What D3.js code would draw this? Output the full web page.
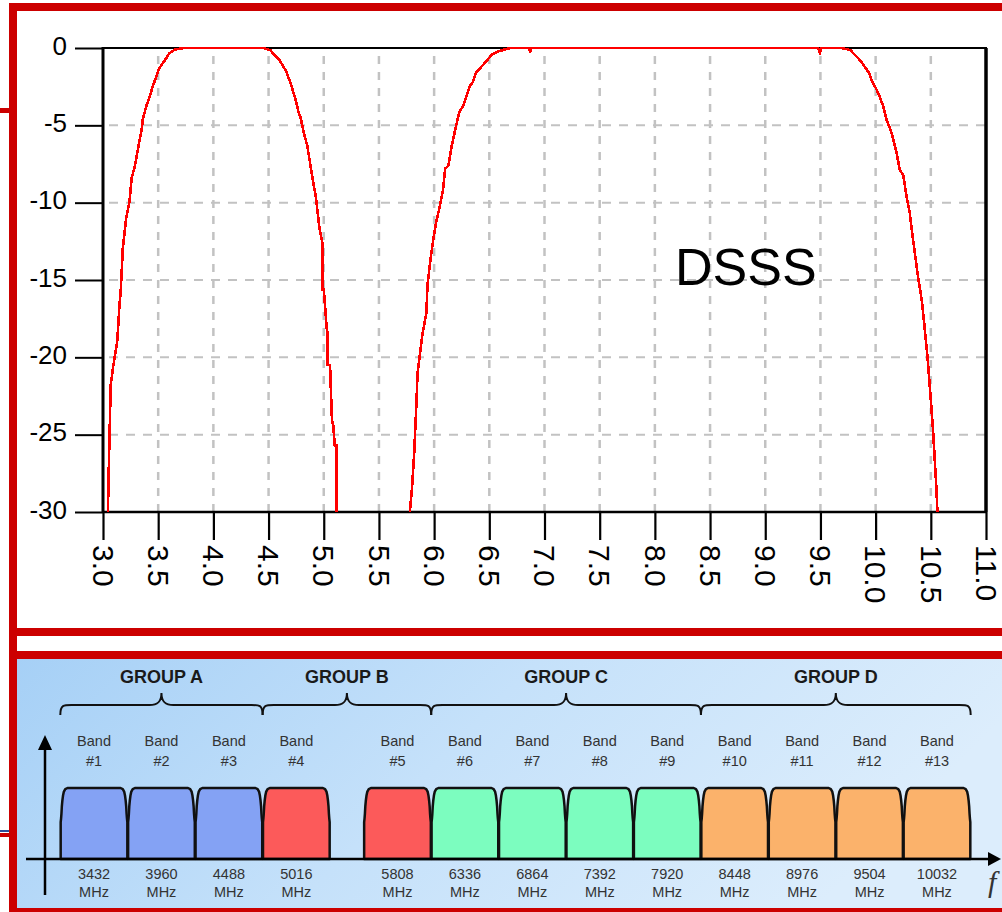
<!DOCTYPE html>
<html>
<head>
<meta charset="utf-8">
<script src="https://cdn.jsdelivr.net/npm/d3@7"></script>
<style>
  html, body { margin: 0; padding: 0; background: #fff; }
  svg { display: block; }
</style>
</head>
<body>
<svg id="chart" width="1002" height="912"></svg>
<script>
// ---- DSSS spectrum mask: frequency (GHz) and level (dB) ----
const lowBandGHz = [3.045, 3.05, 3.07, 3.09, 3.13, 3.15, 3.16, 3.18, 3.21, 3.24, 3.26, 3.29, 3.32, 3.35, 3.36, 3.39, 3.42, 3.45, 3.48, 3.51, 3.56, 3.60, 3.65, 3.74,
                    4.45, 4.52, 4.54, 4.60, 4.66, 4.70, 4.74, 4.77, 4.79, 4.82, 4.85, 4.88, 4.91, 4.93, 4.96, 4.99, 4.99, 5.00, 5.03, 5.036, 5.036, 5.057, 5.075, 5.084, 5.10, 5.117, 5.117];
const lowBandDb  = [-30, -27.9, -21.8, -20.7, -18.9, -16.5, -15.8, -12.9, -11.0, -9.95, -8.4, -7.6, -6.4, -5.3, -4.65, -3.8, -3.2, -2.5, -1.9, -1.3, -0.8, -0.35, -0.1, 0,
                    0, -0.15, -0.35, -0.8, -1.5, -2.3, -3.2, -4.1, -4.5, -5.5, -6.3, -7.6, -8.9, -9.7, -11.6, -12.7, -15.6, -15.6, -18.4, -18.4, -20.5, -20.5, -24.2, -24.2, -25.7, -25.7, -30];

const highBandGHz = [5.78, 5.80, 5.82, 5.84, 5.85, 5.89, 5.93, 5.94, 5.97, 5.99, 6.02, 6.05, 6.08, 6.10, 6.13, 6.16, 6.20, 6.23, 6.26, 6.29, 6.32, 6.35, 6.38, 6.43, 6.48, 6.52, 6.57, 6.66, 6.69,
                     6.86, 6.87, 6.88, 9.48, 9.495, 9.51, 9.69,
                     9.77, 9.80, 9.86, 9.90, 9.94, 9.97, 10.01, 10.04, 10.07, 10.10, 10.14, 10.16, 10.19, 10.22, 10.25, 10.28, 10.31, 10.33, 10.36, 10.38, 10.42, 10.44, 10.47, 10.49, 10.52, 10.55, 10.56];
const highBandDb  = [-30, -28.4, -26.1, -22.9, -21.0, -18.7, -17.1, -15.3, -13.5, -12.5, -11.2, -10.3, -9.2, -7.8, -7.6, -6.3, -5.0, -4.1, -3.8, -3.2, -2.5, -2.2, -1.6, -1.2, -0.8, -0.45, -0.25, -0.05, 0,
                     0, -0.3, 0, 0, -0.3, 0, 0,
                     -0.13, -0.35, -0.8, -1.2, -1.6, -2.2, -2.7, -3.2, -3.8, -4.65, -5.4, -5.9, -6.8, -7.9, -8.2, -9.6, -10.7, -11.9, -13.5, -14.6, -16.4, -17.8, -20.0, -21.8, -24.7, -28.4, -30];

const yTickValues = [0, -5, -10, -15, -20, -25, -30];
const xTickValues = [3.0, 3.5, 4.0, 4.5, 5.0, 5.5, 6.0, 6.5, 7.0, 7.5, 8.0, 8.5, 9.0, 9.5, 10.0, 10.5, 11.0];
const xTickLabels = ["3.0", "3.5", "4.0", "4.5", "5.0", "5.5", "6.0", "6.5", "7.0", "7.5", "8.0", "8.5", "9.0", "9.5", "10.0", "10.5", "11.0"];
const chartLabel = "DSSS";

// ---- UWB band plan ----
const bandNumbers = ["#1", "#2", "#3", "#4", "#5", "#6", "#7", "#8", "#9", "#10", "#11", "#12", "#13"];
const bandCenterMHz = [3432, 3960, 4488, 5016, 5808, 6336, 6864, 7392, 7920, 8448, 8976, 9504, 10032];
const bandGroupIndex = [0, 0, 0, 1, 1, 2, 2, 2, 2, 3, 3, 3, 3];
const groupNames = ["GROUP A", "GROUP B", "GROUP C", "GROUP D"];
const groupColors = ["#84a2f4", "#fc5a5a", "#7cfdbf", "#fbb26b"];
const bandHalfWidthMHz = 264;
// one band's spectral outline: offset from centre (MHz) and relative level
const bandShapeOffsetMHz = [-261, -261, -258, -255, -252, -248, -243, -236, -225, -208, 208, 225, 236, 243, 248, 252, 255, 258, 261, 261];
const bandShapeLevel     = [0, 0.52, 0.57, 0.64, 0.74, 0.82, 0.89, 0.95, 0.985, 1, 1, 0.985, 0.95, 0.89, 0.82, 0.74, 0.64, 0.57, 0.52, 0];

const FONT = "'Liberation Sans', Arial, Helvetica, sans-serif";
const RED = "#cc0000";

const svg = d3.select("#chart");
svg.append("rect").attr("width", 1002).attr("height", 912).attr("fill", "#ffffff");

// ---- slide frame ----
const frameG = svg.append("g");
frameG.append("rect").attr("x", 0).attr("y", 108).attr("width", 10).attr("height", 5).attr("fill", RED);
frameG.append("rect").attr("x", 0).attr("y", 830).attr("width", 10).attr("height", 2).attr("fill", "#2f4f9a");
frameG.append("rect").attr("x", 0).attr("y", 833).attr("width", 10).attr("height", 4).attr("fill", RED);

const defs = svg.append("defs");
const grad = defs.append("linearGradient").attr("id", "panelBg")
  .attr("x1", "0").attr("y1", "0").attr("x2", "1").attr("y2", "0.25");
grad.append("stop").attr("offset", "0").attr("stop-color", "#a6d0f6");
grad.append("stop").attr("offset", "0.5").attr("stop-color", "#c5e1fa");
grad.append("stop").attr("offset", "1").attr("stop-color", "#dcedfc");

frameG.append("rect").attr("x", 17).attr("y", 659).attr("width", 985).attr("height", 249).attr("fill", "url(#panelBg)");
[[9, 3, 993, 8], [9, 3, 8, 909], [9, 628, 993, 8], [9, 651, 993, 8], [9, 908, 993, 4]].forEach(r => {
  frameG.append("rect").attr("x", r[0]).attr("y", r[1]).attr("width", r[2]).attr("height", r[3]).attr("fill", RED);
});

// ---- upper chart: spectrum mask ----
const x = d3.scaleLinear().domain([3, 11]).range([103, 986]);
const y = d3.scaleLinear().domain([-30, 0]).range([512, 48]);

const maskG = svg.append("g");

// dashed grid
maskG.append("g").selectAll("line").data(xTickValues.filter(v => v > 3 && v < 11)).join("line")
  .attr("x1", d => x(d)).attr("x2", d => x(d)).attr("y1", y(0)).attr("y2", y(-30))
  .attr("stroke", "#c2c2c2").attr("stroke-width", 2.5).attr("stroke-dasharray", "8,8")
  .attr("stroke-dashoffset", -8);
maskG.append("g").selectAll("line").data(yTickValues.filter(v => v < 0 && v > -30)).join("line")
  .attr("x1", x(3)).attr("x2", x(11)).attr("y1", d => y(d)).attr("y2", d => y(d))
  .attr("stroke", "#c2c2c2").attr("stroke-width", 2).attr("stroke-dasharray", "9,8")
  .attr("stroke-dashoffset", -6);

// axes
const yAxis = maskG.append("g").attr("transform", `translate(${x(3)},0)`)
  .call(d3.axisLeft(y).tickValues(yTickValues).tickSize(28).tickPadding(8));
yAxis.select(".domain").remove();
yAxis.selectAll(".tick line").attr("stroke", "#000").attr("stroke-width", 2);
yAxis.selectAll(".tick text").attr("font-family", FONT).attr("font-size", 26).attr("fill", "#000")
  .attr("y", -2).text(d => String(d));

const xAxis = maskG.append("g").attr("transform", `translate(0,${y(-30)})`)
  .call(d3.axisBottom(x).tickValues(xTickValues).tickSize(28).tickFormat((d, i) => xTickLabels[i]));
xAxis.select(".domain").remove();
xAxis.selectAll(".tick line").attr("stroke", "#000").attr("stroke-width", 2.2);
xAxis.selectAll(".tick text")
  .attr("font-family", FONT).attr("font-size", 30).attr("fill", "#000")
  .attr("transform", "rotate(90)").attr("text-anchor", "start")
  .attr("x", 33).attr("y", 0).attr("dy", "0.36em");

// plot frame
maskG.append("line").attr("x1", x(3)).attr("x2", x(11) + 1).attr("y1", y(0)).attr("y2", y(0)).attr("stroke", "#000").attr("stroke-width", 2);
maskG.append("line").attr("x1", x(11)).attr("x2", x(11)).attr("y1", y(0)).attr("y2", y(-30)).attr("stroke", "#000").attr("stroke-width", 3.5);
maskG.append("line").attr("x1", x(3)).attr("x2", x(3)).attr("y1", y(0) - 1).attr("y2", y(-30) + 1).attr("stroke", "#000").attr("stroke-width", 3);
maskG.append("line").attr("x1", x(3)).attr("x2", x(11) + 1).attr("y1", y(-30)).attr("y2", y(-30)).attr("stroke", "#000").attr("stroke-width", 2.5);

maskG.append("text").attr("x", 675).attr("y", 285).attr("font-family", FONT).attr("font-size", 52)
  .attr("fill", "#000").text(chartLabel);

// mask curves
const maskLine = d3.line().x(d => x(d[0])).y(d => y(d[1]));
[[lowBandGHz, lowBandDb], [highBandGHz, highBandDb]].forEach(([fs, ls]) => {
  maskG.append("path").datum(fs.map((f, i) => [f, ls[i]]))
    .attr("d", maskLine).attr("fill", "none").attr("stroke", "#ff0000")
    .attr("stroke-width", 2.6).attr("shape-rendering", "crispEdges");
});

// ---- lower chart: band plan ----
const bx = d3.scaleLinear().domain([3432 - bandHalfWidthMHz, 10032 + bandHalfWidthMHz]).range([60.3, 970.7]);
const by = d3.scaleLinear().domain([0, 1]).range([859, 788]);

const planG = svg.append("g");

const bandLine = d3.line().x(d => d[0]).y(d => d[1]);
planG.selectAll("path.band").data(bandCenterMHz).join("path").attr("class", "band")
  .attr("d", (c, i) => bandLine(bandShapeOffsetMHz.map((o, k) => [bx(c + o), by(bandShapeLevel[k])])) + "Z")
  .attr("fill", (c, i) => groupColors[bandGroupIndex[i]])
  .attr("stroke", "#111").attr("stroke-width", 2.5).attr("stroke-linejoin", "round");

// frequency axis with arrows
planG.append("line").attr("x1", 26).attr("x2", 992).attr("y1", by(0)).attr("y2", by(0)).attr("stroke", "#000").attr("stroke-width", 2.5);
planG.append("path").attr("d", `M1001,${by(0)} L988,${by(0) - 7} L988,${by(0) + 7} Z`).attr("fill", "#000");
planG.append("line").attr("x1", 45).attr("x2", 45).attr("y1", 895).attr("y2", 745).attr("stroke", "#000").attr("stroke-width", 2.5);
planG.append("path").attr("d", "M45,735 L38,750 L52,750 Z").attr("fill", "#000");
planG.append("text").attr("x", 988).attr("y", 892).attr("font-family", "'Liberation Serif', 'Times New Roman', serif")
  .attr("font-style", "italic").attr("font-size", 30).attr("fill", "#333").text("f");

// band labels
const bandText = planG.append("g").attr("font-family", FONT).attr("font-size", 14.5).attr("fill", "#333").attr("text-anchor", "middle");
bandCenterMHz.forEach((c, i) => {
  const cx = bx(c);
  bandText.append("text").attr("x", cx).attr("y", 746).text("Band");
  bandText.append("text").attr("x", cx).attr("y", 766).text(bandNumbers[i]);
  bandText.append("text").attr("x", cx).attr("y", 879).text(String(c));
  bandText.append("text").attr("x", cx).attr("y", 897).text("MHz");
});

// group braces and titles
groupNames.forEach((name, g) => {
  const members = bandCenterMHz.filter((c, i) => bandGroupIndex[i] === g);
  const x0 = bx(d3.min(members) - bandHalfWidthMHz);
  const x1 = bx(d3.max(members) + bandHalfWidthMHz);
  const xm = (x0 + x1) / 2;
  const yEnd = 715, yMid = 705, yTip = 693;
  const d = `M${x0},${yEnd} C${x0},${yMid - 1} ${x0 + 4},${yMid} ${x0 + 14},${yMid}` +
            ` L${xm - 12},${yMid} C${xm - 4},${yMid} ${xm},${yMid - 3} ${xm},${yTip}` +
            ` C${xm},${yMid - 3} ${xm + 4},${yMid} ${xm + 12},${yMid}` +
            ` L${x1 - 14},${yMid} C${x1 - 4},${yMid} ${x1},${yMid - 1} ${x1},${yEnd}`;
  planG.append("path").attr("d", d).attr("fill", "none").attr("stroke", "#111").attr("stroke-width", 2);
  planG.append("text").attr("x", xm).attr("y", 683).attr("text-anchor", "middle")
    .attr("font-family", FONT).attr("font-weight", "bold").attr("font-size", 18).attr("fill", "#1a1a1a").text(name);
});
</script>
</body>
</html>
